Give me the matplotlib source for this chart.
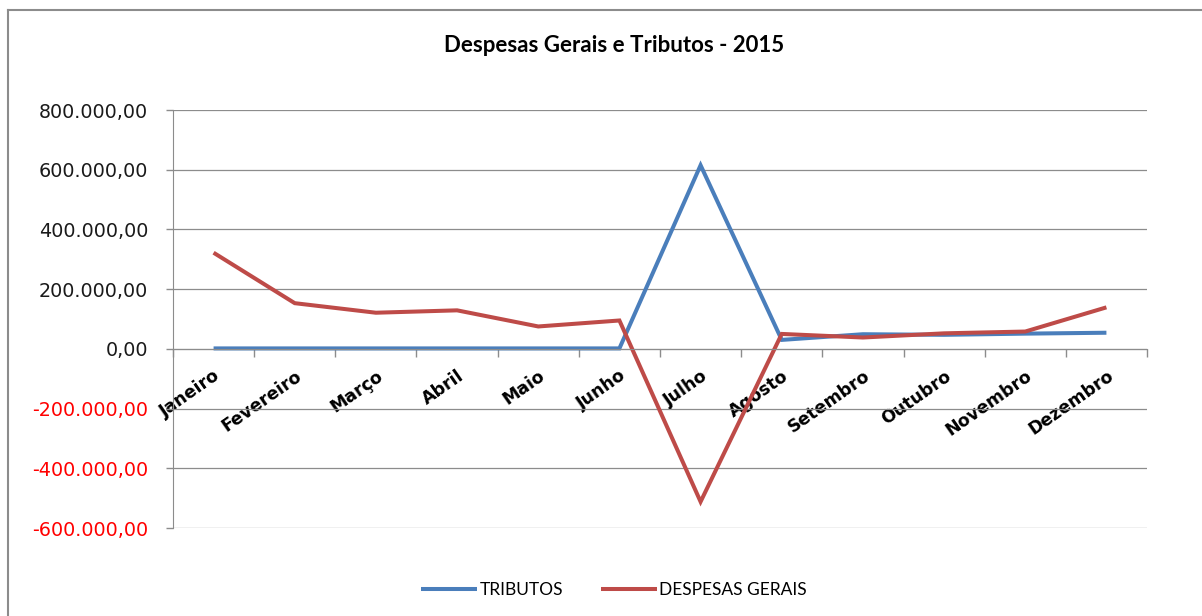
import matplotlib
matplotlib.use("Agg")
from matplotlib import pyplot as plt
from matplotlib.lines import Line2D

plt.rcParams["font.family"] = ["Lato", "DejaVu Sans"]

meses = ["Janeiro", "Fevereiro", "Março", "Abril", "Maio", "Junho",
         "Julho", "Agosto", "Setembro", "Outubro", "Novembro", "Dezembro"]

tributos = [1500, 1500, 1500, 1500, 1500, 1500,
            615000, 30000, 49000, 47000, 51000, 54000]

despesas_gerais = [322000, 153000, 121000, 129000, 75000, 95000,
                   -512000, 50000, 38000, 52000, 58000, 139000]

y_ticks = [-600000, -400000, -200000, 0, 200000, 400000, 600000, 800000]


def fmt_brl(v):
    s = "{:,.2f}".format(v)
    return s.replace(",", "X").replace(".", ",").replace("X", ".")


fig = plt.figure(figsize=(12.02, 6.16), dpi=100)
ax = fig.add_axes([173 / 1202, 88 / 616, 974 / 1202, 418 / 616])

x = list(range(len(meses)))
ax.plot(x, tributos, color="#4A7EBB", linewidth=2.9, label="TRIBUTOS",
        solid_capstyle="butt", solid_joinstyle="miter")
ax.plot(x, despesas_gerais, color="#BE4B48", linewidth=2.9, label="DESPESAS GERAIS",
        solid_capstyle="butt", solid_joinstyle="miter")

ax.set_xlim(-0.5, 11.5)
ax.set_ylim(-600000, 800000)

# y axis
ax.set_yticks(y_ticks)
ax.set_yticklabels([fmt_brl(v) for v in y_ticks], fontsize=13.8,
                   family="DejaVu Sans")
for lab, v in zip(ax.get_yticklabels(), y_ticks):
    lab.set_color("red" if v < 0 else "#1a1a1a")
ax.tick_params(axis="y", length=5, color="#8c8c8c", width=1, pad=13)
ax.grid(axis="y", color="#8c8c8c", linewidth=0.9)
ax.set_axisbelow(True)

# x axis on zero line
ax.spines["bottom"].set_position(("data", 0))
ax.spines["bottom"].set_color("#8c8c8c")
ax.spines["left"].set_color("#8c8c8c")
ax.spines["top"].set_visible(False)
ax.spines["right"].set_visible(False)
ax.set_xticks(x)
ax.set_xticklabels(meses, rotation=35, ha="right", rotation_mode="anchor",
                   fontsize=12.5, fontweight="bold", family="DejaVu Sans")
ax.set_xticks([i - 0.5 for i in range(len(meses) + 1)], minor=True)
ax.tick_params(axis="x", which="major", length=0, pad=13)
ax.tick_params(axis="x", which="minor", length=6, color="#8c8c8c", width=1)

fig.text(614 / 1202, 1 - 45 / 616, "Despesas Gerais e Tributos - 2015",
         ha="center", va="center", fontsize=16, fontweight="bold")

fig.legend(loc="center", bbox_to_anchor=(614 / 1202, 1 - 590 / 616), ncol=2,
           frameon=False, fontsize=12.5, handlelength=3.2, handletextpad=0.15,
           columnspacing=2.2)

# chart frame
fig.add_artist(Line2D([8 / 1202, 8 / 1202], [0, 1 - 10 / 616],
                      transform=fig.transFigure, color="#8c8c8c", linewidth=1.5))
fig.add_artist(Line2D([8 / 1202, 1], [1 - 10 / 616, 1 - 10 / 616],
                      transform=fig.transFigure, color="#8c8c8c", linewidth=1.5))

plt.savefig("out.png", dpi=100)
